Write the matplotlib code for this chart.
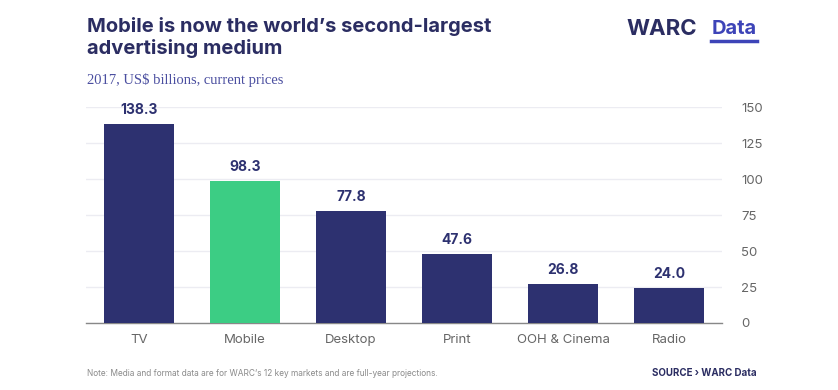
import numpy as np
import matplotlib.pyplot as plt

categories = ['TV', 'Mobile', 'Desktop', 'Print', 'OOH & Cinema', 'Radio']
values = [138.3, 98.3, 77.8, 47.6, 26.8, 24.0]
yticks = [0, 25, 50, 75, 100, 125, 150]

navy = '#2d3170'
green = '#3ccd84'
colors = [green if c == 'Mobile' else navy for c in categories]

fig = plt.figure(figsize=(8.38, 3.9), dpi=100)
ax = fig.add_axes([0.1026, 0.1718, 0.759, 0.5538])

x = np.arange(len(categories))
ax.bar(x, values, width=0.66, color=colors, zorder=3)
for xi, v in zip(x, values):
    ax.text(xi, v + 5, f'{v:.1f}', ha='center', va='bottom', fontsize=10,
            fontweight='bold', color=navy, family='Inter', clip_on=False)

ax.set_xlim(-0.5, len(categories) - 0.5)
ax.set_ylim(0, 150)
ax.set_xticks(x)
ax.set_xticklabels(categories, fontsize=9.5, color='#666666', family='Inter')
ax.set_yticks(yticks)
ax.set_yticklabels([str(t) for t in yticks], fontsize=9.5, color='#666666', family='Inter')
ax.yaxis.tick_right()
ax.tick_params(axis='both', length=0)
ax.tick_params(axis='y', pad=14)
ax.tick_params(axis='x', pad=8)
ax.grid(axis='y', color='#ececf2', linewidth=1, zorder=0)
for s in ['top', 'right', 'left']:
    ax.spines[s].set_visible(False)
ax.spines['bottom'].set_color('#888888')
ax.spines['bottom'].set_linewidth(1)

fig.text(0.104, 0.905, 'Mobile is now the world\u2019s second-largest\nadvertising medium',
         fontsize=14.5, fontweight='bold', color='#2b2d62', family='Inter',
         va='center', linespacing=1.2)
fig.text(0.104, 0.795, '2017, US$ billions, current prices', fontsize=10.5,
         color='#4b4fa0', family='Liberation Serif', va='center')

fig.text(0.748, 0.925, 'WARC', fontsize=16, fontweight='bold', color='#2b2d62',
         family='Inter', va='center')
fig.text(0.849, 0.925, 'Data', fontsize=14.5, fontweight='bold', color='#3d44b8',
         family='Inter', va='center')
fig.add_artist(plt.Line2D([0.849, 0.903], [0.895, 0.895], color='#3d44b8',
                          linewidth=2.5, transform=fig.transFigure))

fig.text(0.104, 0.043, 'Note: Media and format data are for WARC\u2019s 12 key markets and are full-year projections.',
         fontsize=6, color='#8a8a8a', family='Inter', va='center')
fig.text(0.903, 0.043, 'SOURCE \u203a WARC Data', fontsize=7, fontweight='bold',
         color='#2b2d62', family='Inter', va='center', ha='right')

fig.savefig('out.png', dpi=100, facecolor='white')
